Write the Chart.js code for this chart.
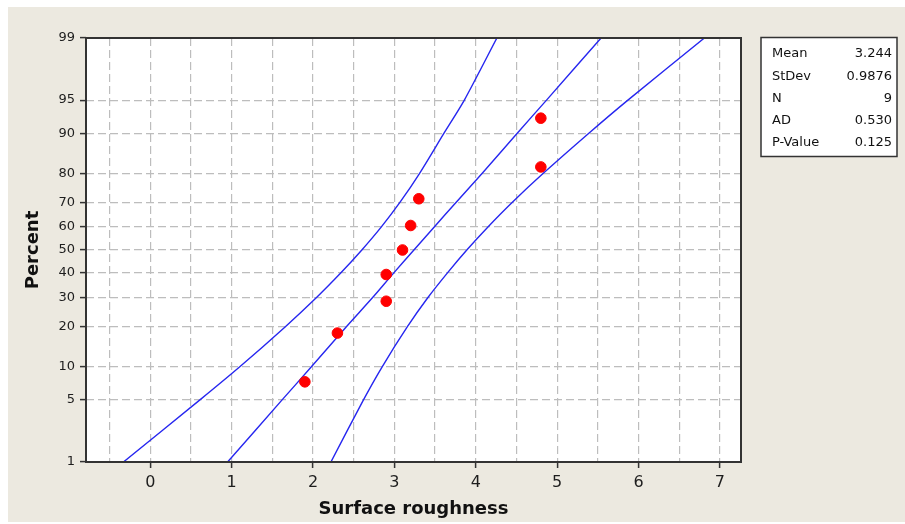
<!DOCTYPE html>
<html>
<head>
<meta charset="utf-8">
<script src="https://cdn.jsdelivr.net/npm/chart.js"></script>
<style>
  html, body { margin: 0; padding: 0; background: #ffffff; }
  #wrap {
    position: absolute; left: 8px; top: 7px;
    width: 897px; height: 515px;
    background: #ece9e0;
  }
</style>
</head>
<body>
<div id="wrap"><canvas id="prob-plot"></canvas></div>
<script>
// Surface roughness samples, sorted, with their median-rank plotting positions (%)
const roughness = [1.9, 2.3, 2.9, 2.9, 3.1, 3.2, 3.3, 4.8, 4.8];
const percentRank = [7.4, 18.1, 28.7, 39.4, 50.0, 60.6, 71.3, 81.9, 92.6];

// Fitted normal line and 95% confidence band, read at the percent grid
const bandPercent = [1, 5, 10, 20, 30, 40, 50, 60, 70, 80, 90, 95, 99];
const fitLine   = [0.95, 1.62, 1.98, 2.41, 2.73, 2.99, 3.24, 3.49, 3.76, 4.08, 4.51, 4.87, 5.54];
const bandLeft  = [-0.33, 0.61, 1.10, 1.66, 2.04, 2.34, 2.60, 2.84, 3.07, 3.31, 3.61, 3.86, 4.26];
const bandRight = [2.22, 2.62, 2.85, 3.16, 3.41, 3.65, 3.89, 4.15, 4.45, 4.83, 5.39, 5.87, 6.81];

// Axis ticks
const percentTicks = [1, 5, 10, 20, 30, 40, 50, 60, 70, 80, 90, 95, 99];
const xTicks = [-0.5, 0, 0.5, 1, 1.5, 2, 2.5, 3, 3.5, 4, 4.5, 5, 5.5, 6, 6.5, 7];

// Summary table
const statLabels = ['Mean', 'StDev', 'N', 'AD', 'P-Value'];
const statValues = ['3.244', '0.9876', '9', '0.530', '0.125'];

const FONT = "'DejaVu Sans', 'Liberation Sans', sans-serif";

// inverse standard normal CDF (Acklam)
function probit(p) {
  const a = [-3.969683028665376e+01, 2.209460984245205e+02, -2.759285104469687e+02,
             1.383577518672690e+02, -3.066479806614716e+01, 2.506628277459239e+00];
  const b = [-5.447609879822406e+01, 1.615858368580409e+02, -1.556989798598866e+02,
             6.680131188771972e+01, -1.328068155288572e+01];
  const c = [-7.784894002430293e-03, -3.223964580411365e-01, -2.400758277161838e+00,
             -2.549732539343734e+00, 4.374664141464968e+00, 2.938163982698783e+00];
  const d = [7.784695709041462e-03, 3.224671290700398e-01, 2.445134137142996e+00,
             3.754408661907416e+00];
  const pl = 0.02425;
  if (p < pl) {
    const q = Math.sqrt(-2 * Math.log(p));
    return (((((c[0]*q+c[1])*q+c[2])*q+c[3])*q+c[4])*q+c[5]) / ((((d[0]*q+d[1])*q+d[2])*q+d[3])*q+1);
  }
  if (p > 1 - pl) {
    const q = Math.sqrt(-2 * Math.log(1 - p));
    return -(((((c[0]*q+c[1])*q+c[2])*q+c[3])*q+c[4])*q+c[5]) / ((((d[0]*q+d[1])*q+d[2])*q+d[3])*q+1);
  }
  const q = p - 0.5, r = q * q;
  return (((((a[0]*r+a[1])*r+a[2])*r+a[3])*r+a[4])*r+a[5])*q / (((((b[0]*r+b[1])*r+b[2])*r+b[3])*r+b[4])*r+1);
}

function normCdf(z) {
  const t = 1 / (1 + 0.2316419 * Math.abs(z));
  const y = 0.3989423 * Math.exp(-z * z / 2) *
    t * (0.3193815 + t * (-0.3565638 + t * (1.781478 + t * (-1.821256 + t * 1.330274))));
  return z > 0 ? 1 - y : y;
}

// Normal probability axis: values in percent, spaced by their z-score
class ProbabilityScale extends Chart.LinearScale {
  buildTicks() {
    this.start = this.min;
    this.end = this.max;
    return percentTicks.map(v => ({ value: v }));
  }
  getPixelForValue(value) {
    const lo = probit(this.min / 100), hi = probit(this.max / 100);
    return this.getPixelForDecimal((probit(value / 100) - lo) / (hi - lo));
  }
  getValueForPixel(pixel) {
    const lo = probit(this.min / 100), hi = probit(this.max / 100);
    return normCdf(lo + this.getDecimalForPixel(pixel) * (hi - lo)) * 100;
  }
}
ProbabilityScale.id = 'probability';
ProbabilityScale.defaults = {};
Chart.register(ProbabilityScale);

const toPoints = (xs, ys) => xs.map((x, i) => ({ x: x, y: ys[i] }));

// white plot area, frame and the stats box
const plotDecor = {
  id: 'plotDecor',
  beforeDraw(chart) {
    const { ctx, chartArea: a } = chart;
    ctx.save();
    ctx.fillStyle = '#ffffff';
    ctx.fillRect(a.left, a.top, a.width, a.height);
    ctx.restore();
  },
  afterDraw(chart) {
    const { ctx, chartArea: a } = chart;
    ctx.save();
    ctx.strokeStyle = '#333333';
    ctx.lineWidth = 2;
    ctx.strokeRect(a.left, a.top, a.width, a.height);

    // stats box
    const bx = 753, by = 30.5, bw = 136, bh = 119;
    ctx.fillStyle = '#ffffff';
    ctx.fillRect(bx, by, bw, bh);
    ctx.lineWidth = 1.5;
    ctx.strokeStyle = '#333333';
    ctx.strokeRect(bx, by, bw, bh);
    ctx.fillStyle = '#111111';
    ctx.font = '13px ' + FONT;
    ctx.textBaseline = 'middle';
    statLabels.forEach((lab, i) => {
      const y = by + 16.5 + i * 22.2;
      ctx.textAlign = 'left';
      ctx.fillText(lab, bx + 11, y);
      ctx.textAlign = 'right';
      ctx.fillText(statValues[i], bx + bw - 5, y);
    });
    ctx.restore();
  }
};

const gridStyle = { color: '#bdbdbd', lineWidth: 1.2, tickLength: 6, tickWidth: 1.5 };
const lineStyle = { showLine: true, borderColor: '#2626f0', borderWidth: 1.4, pointRadius: 0, tension: 0.25 };

new Chart(document.getElementById('prob-plot'), {
  type: 'scatter',
  data: {
    datasets: [
      {
        label: 'Surface roughness',
        data: toPoints(roughness, percentRank),
        backgroundColor: '#ff0000',
        borderColor: '#ff0000',
        pointRadius: 5.3,
        pointHoverRadius: 5.3,
        showLine: false
      },
      { label: 'Fit', data: toPoints(fitLine, bandPercent), ...lineStyle },
      { label: 'Lower CI', data: toPoints(bandLeft, bandPercent), ...lineStyle },
      { label: 'Upper CI', data: toPoints(bandRight, bandPercent), ...lineStyle }
    ]
  },
  options: {
    responsive: true,
    maintainAspectRatio: false,
    animation: false,
    events: [],
    layout: { padding: { top: 31, right: 164, left: 0, bottom: 0 } },
    plugins: {
      legend: { display: false },
      tooltip: { enabled: false }
    },
    scales: {
      x: {
        type: 'linear',
        min: -0.79,
        max: 7.26,
        afterBuildTicks: axis => { axis.ticks = xTicks.map(v => ({ value: v })); },
        afterFit: axis => { axis.height = 60; },
        grid: {
          ...gridStyle,
          tickColor: c => Number.isInteger(c.tick.value) ? '#333333' : 'transparent'
        },
        border: { display: false, dash: [8, 4] },
        ticks: {
          padding: 5,
          color: '#1e1e1e',
          font: { family: FONT, size: 16 },
          callback: v => Number.isInteger(v) ? String(v) : ''
        },
        title: {
          display: true,
          text: 'Surface roughness',
          color: '#111111',
          font: { family: FONT, size: 18, weight: 'bold' },
          padding: { top: 0, bottom: 2 }
        }
      },
      y: {
        type: 'probability',
        min: 1,
        max: 99,
        afterFit: axis => { axis.width = 78; },
        grid: { ...gridStyle, tickColor: '#333333' },
        border: { display: false, dash: [8, 4] },
        ticks: {
          padding: 5,
          color: '#1e1e1e',
          font: { family: FONT, size: 13 },
          callback: v => String(v)
        },
        title: {
          display: true,
          text: 'Percent',
          color: '#111111',
          font: { family: FONT, size: 18, weight: 'bold' },
          padding: { top: 15, bottom: 0 }
        }
      }
    }
  },
  plugins: [plotDecor]
});
</script>
</body>
</html>
